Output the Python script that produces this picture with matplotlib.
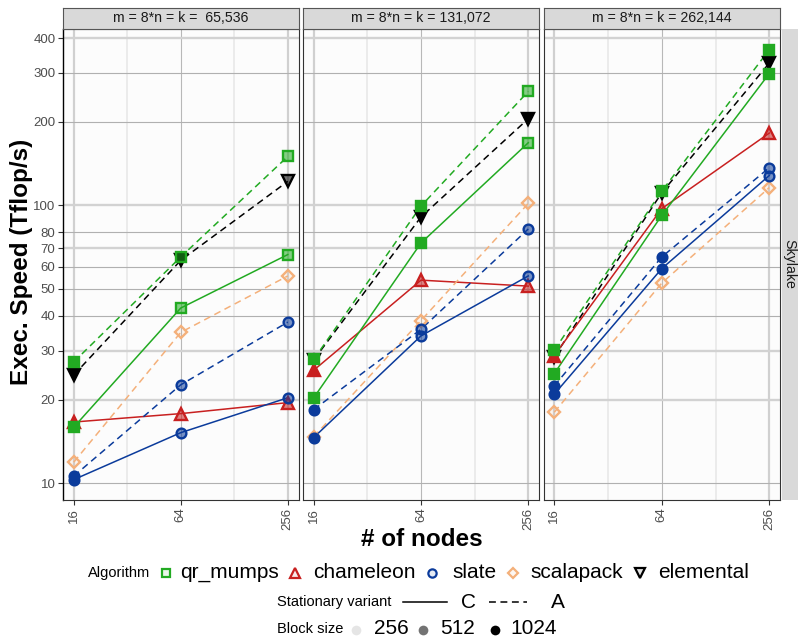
import matplotlib
matplotlib.use("Agg")
import matplotlib.pyplot as plt
from matplotlib.lines import Line2D
from matplotlib.colors import to_rgba

plt.rcParams['font.family'] = ['Liberation Sans', 'DejaVu Sans']

# ---- data -------------------------------------------------------------
panel_labels = ["m = 8*n = k =  65,536", "m = 8*n = k = 131,072", "m = 8*n = k = 262,144"]
row_label = "Skylake"
nodes = [16, 64, 256]
y_breaks = [10, 20, 30, 40, 50, 60, 70, 80, 100, 200, 300, 400]

# Tflop/s per panel (rows) and node count (columns)
qr_mumps_C = [[15.9, 42.7, 66.5], [20.3, 73.2, 168.0], [24.8, 92.0, 298.0]]
qr_mumps_A = [[27.3, 65.2, 150.0], [27.9, 99.4, 257.0], [30.1, 112.5, 363.0]]
chameleon_C = [[16.6, 17.8, 19.5], [25.5, 53.8, 51.2], [28.8, 97.3, 182.0]]
slate_C = [[10.3, 15.2, 20.3], [14.6, 33.9, 55.7], [20.9, 59.2, 128.0]]
slate_A = [[10.6, 22.6, 38.0], [18.4, 35.8, 82.2], [22.4, 65.2, 136.6]]
scalapack_A = [[11.9, 34.9, 55.7], [14.7, 38.5, 101.6], [18.0, 52.5, 115.8]]
elemental_A = [[24.5, 63.4, 122.0], [27.8, 90.8, 205.0], [28.5, 111.0, 325.0]]

# block size of each point
qr_mumps_C_bs = [[1024, 512, 512], [1024, 1024, 512], [1024, 1024, 1024]]
qr_mumps_A_bs = [[1024, 512, 512], [1024, 1024, 512], [1024, 1024, 1024]]
chameleon_C_bs = [[1024, 512, 512], [1024, 512, 512], [1024, 512, 512]]
slate_C_bs = [[1024, 512, 512], [1024, 512, 512], [1024, 1024, 512]]
slate_A_bs = [[1024, 512, 512], [1024, 512, 512], [1024, 1024, 512]]
scalapack_A_bs = [[256, 256, 256], [256, 256, 256], [256, 256, 256]]
elemental_A_bs = [[1024, 1024, 512], [1024, 1024, 1024], [1024, 1024, 1024]]

algorithms = ["qr_mumps", "chameleon", "slate", "scalapack", "elemental"]
block_sizes = [256, 512, 1024]

# ---- styles -----------------------------------------------------------
colors = {"qr_mumps": "#22AA22", "chameleon": "#C82020", "slate": "#0B3B9B",
          "scalapack": "#F4B07A", "elemental": "#000000"}
markers = {"qr_mumps": "s", "chameleon": "^", "slate": "o", "scalapack": "D", "elemental": "v"}
msizes = {"qr_mumps": 6.6, "chameleon": 8.2, "slate": 7.0, "scalapack": 6.2, "elemental": 8.2}
fill_alpha = {256: 0.1, 512: 0.55, 1024: 1.0}
dash = (4.5, 3.0)

# series in drawing order: (algorithm, variant, values, block sizes)
series = [
    ("elemental", "A", elemental_A, elemental_A_bs),
    ("chameleon", "C", chameleon_C, chameleon_C_bs),
    ("scalapack", "A", scalapack_A, scalapack_A_bs),
    ("slate", "C", slate_C, slate_C_bs),
    ("slate", "A", slate_A, slate_A_bs),
    ("qr_mumps", "C", qr_mumps_C, qr_mumps_C_bs),
    ("qr_mumps", "A", qr_mumps_A, qr_mumps_A_bs),
]

W, H = 798, 638
fig = plt.figure(figsize=(W / 100, H / 100), dpi=100)
fig.patch.set_facecolor("white")


def fx(px):
    return px / W


def fy(py):
    return 1 - py / H


panel_x = [(63, 298.5), (303, 539), (543.5, 780)]
top, bottom = 28.5, 500

for p, (x0, x1) in enumerate(panel_x):
    ax = fig.add_axes([fx(x0), fy(bottom), fx(x1) - fx(x0), fy(top) - fy(bottom)])
    ax.set_facecolor("#FCFCFC")
    ax.set_xscale("log", base=2)
    ax.set_yscale("log")
    ax.set_xlim(2 ** 3.8, 2 ** 8.2)
    ax.set_ylim(8.7, 433)

    # grid
    for v in [32, 128]:
        ax.axvline(v, color="#E6E6E6", lw=1.1, zorder=0.5)
    for v, thick in [(16, True), (64, False), (256, True)]:
        ax.axvline(v, color="#D0D0D0" if thick else "#B8B8B8",
                   lw=1.6 if thick else 0.8, zorder=0.6)
    for v in y_breaks:
        thick = v in (20, 30, 70, 100, 400)
        ax.axhline(v, color="#D2D2D2" if thick else "#B0B0B0",
                   lw=1.7 if thick else 0.8, zorder=0.6)

    # lines
    for alg, var, vals, bs in series:
        ax.plot(nodes, vals[p], color=colors[alg], lw=1.1,
                linestyle="-" if var == "C" else (0, dash), zorder=2)
    # points
    for alg, var, vals, bs in series:
        for xv, yv, b in zip(nodes, vals[p], bs[p]):
            ax.plot([xv], [yv], linestyle="none", marker=markers[alg],
                    ms=msizes[alg], mew=1.7, mec=colors[alg],
                    mfc=to_rgba(colors[alg], fill_alpha[b]), zorder=3)

    ax.minorticks_off()
    ax.set_xticks(nodes)
    ax.set_xticklabels([str(n) for n in nodes], rotation=90, fontsize=9.5, color="#4D4D4D")
    ax.tick_params(axis="x", length=3.5, width=0.8, color="#333333", pad=2)
    if p == 0:
        ax.set_yticks(y_breaks)
        ax.set_yticklabels([str(v) for v in y_breaks], fontsize=9.5, color="#4D4D4D")
        ax.tick_params(axis="y", length=3.5, width=0.8, color="#333333", pad=2)
    else:
        ax.set_yticks([])
    for s in ax.spines.values():
        s.set_color("#333333")
        s.set_linewidth(0.8)
    if p == 0:
        ax.spines["left"].set_color("#000000")
        ax.spines["left"].set_linewidth(1.0)

    # facet strip on top
    sax = fig.add_axes([fx(x0), fy(top), fx(x1) - fx(x0), fy(8) - fy(top)])
    sax.set_facecolor("#D9D9D9")
    sax.set_xticks([])
    sax.set_yticks([])
    for s in sax.spines.values():
        s.set_color("#555555")
        s.set_linewidth(0.8)
    sax.text(0.5, 0.5, panel_labels[p], ha="center", va="center",
             fontsize=10.2, color="#1A1A1A", transform=sax.transAxes)

# row strip on the right
rax = fig.add_axes([fx(781.5), fy(bottom), fx(798) - fx(781.5), fy(top) - fy(bottom)])
rax.set_facecolor("#D9D9D9")
rax.set_xticks([])
rax.set_yticks([])
for s in rax.spines.values():
    s.set_visible(False)
rax.text(0.5, 0.5, row_label, rotation=-90, ha="center", va="center",
         fontsize=10.2, color="#1A1A1A", transform=rax.transAxes)

# axis titles
fig.text(fx(421.5), fy(540), "# of nodes", ha="center", va="center",
         fontsize=17.5, fontweight="bold")
fig.text(fx(22), fy(262), "Exec. Speed (Tflop/s)", ha="center", va="center",
         rotation=90, fontsize=17.5, fontweight="bold")

# ---- legends ----------------------------------------------------------
def key_marker(px, py, marker, ms, ec, fc, mew=1.6):
    fig.add_artist(Line2D([fx(px)], [fy(py)], marker=marker, ms=ms, mew=mew,
                          mec=ec, mfc=fc, linestyle="none",
                          transform=fig.transFigure))


def key_text(px, py, s, size):
    fig.text(fx(px), fy(py), s, ha="left", va="center", fontsize=size, color="#000000")


# algorithm row
key_text(88, 573, "Algorithm", 10.5)
alg_pos = [(166, 180), (295, 313), (432, 452), (513, 530), (640, 658)]
for alg, (mx, tx) in zip(algorithms, alg_pos):
    key_marker(mx, 573, markers[alg], msizes[alg] * 0.85, colors[alg],
               to_rgba(colors[alg], 0.1))
    key_text(tx, 573, alg, 15)

# stationary variant row
key_text(277, 602, "Stationary variant", 10.5)
fig.add_artist(Line2D([fx(403), fx(447)], [fy(602), fy(602)], color="black", lw=1.1,
                      transform=fig.transFigure))
key_text(461, 602, "C", 15)
fig.add_artist(Line2D([fx(489), fx(527)], [fy(602), fy(602)], color="black", lw=1.1,
                      linestyle=(0, dash), transform=fig.transFigure))
key_text(551, 602, "A", 15)

# block size row
key_text(277, 629, "Block size", 10.5)
bs_pos = [(356, 374), (423, 440), (495, 510)]
for b, (mx, tx) in zip(block_sizes, bs_pos):
    key_marker(mx, 630, "o", 7, "none", to_rgba("black", fill_alpha[b]), mew=0)
    key_text(tx, 629, str(b), 15)

fig.savefig("out.png", dpi=100)
